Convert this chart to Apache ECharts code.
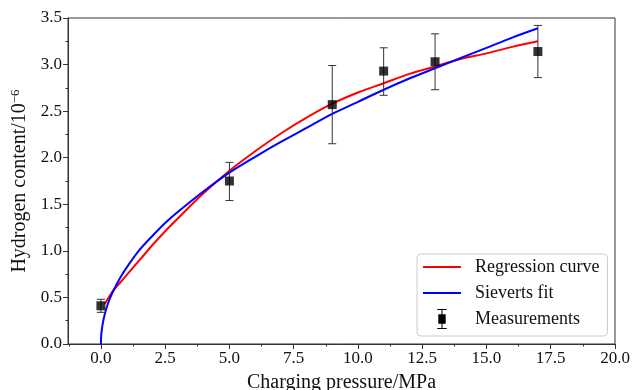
<!DOCTYPE html>
<html>
<head>
<meta charset="utf-8">
<script src="https://cdn.jsdelivr.net/npm/echarts@6/dist/echarts.min.js"></script>
<style>
  html, body { margin: 0; padding: 0; background: #fff; }
  #chart { width: 632px; height: 390px; }
</style>
</head>
<body>
<div id="chart"></div>
<script>
// measurements (pressure in MPa, hydrogen content in 10^-6)
const measX = [0, 5, 9, 11, 13, 17];
const measY = [0.41, 1.75, 2.57, 2.93, 3.03, 3.14];
const errLow = [0.34, 1.54, 2.15, 2.67, 2.73, 2.86];
const errHigh = [0.48, 1.95, 2.99, 3.18, 3.33, 3.42];

// regression curve
const regX = [0.15, 0.3, 0.5, 0.75, 1, 1.5, 2, 2.5, 3, 4, 5, 6, 7, 8, 9, 10, 11, 12, 13, 14, 15, 16, 17];
const regY = [0.43, 0.50, 0.58, 0.66, 0.74, 0.90, 1.06, 1.21, 1.35, 1.62, 1.86, 2.07, 2.26, 2.43, 2.58, 2.70, 2.80, 2.90, 2.98, 3.06, 3.12, 3.19, 3.25];

// Sieverts fit
const sievX = [0, 0.01, 0.03, 0.06, 0.1, 0.2, 0.35, 0.5, 0.75, 1, 1.5, 2, 2.5, 3, 4, 5, 6, 7, 8, 9, 10, 11, 12, 13, 14, 15, 16, 17];
const sievY = [0, 0.08, 0.14, 0.20, 0.26, 0.37, 0.49, 0.58, 0.71, 0.82, 1.01, 1.16, 1.30, 1.42, 1.64, 1.84, 2.01, 2.17, 2.32, 2.47, 2.60, 2.73, 2.85, 2.96, 3.07, 3.18, 3.29, 3.39];

const xMajor = [0, 2.5, 5, 7.5, 10, 12.5, 15, 17.5, 20];
const xMinor = [-1.25, 1.25, 3.75, 6.25, 8.75, 11.25, 13.75, 16.25, 18.75];

const font = 'Liberation Serif';
const axisColor = '#333';

const pair = (xs, ys) => xs.map((x, i) => [x, ys[i]]);

const chart = echarts.init(document.getElementById('chart'));
chart.setOption({
  animation: false,
  textStyle: { fontFamily: font },
  grid: {
    left: 68, right: 17, top: 18, bottom: 46,
    outerBoundsMode: 'none',
    show: true, borderColor: axisColor, borderWidth: 1
  },
  xAxis: [{
    type: 'value', min: -1.28, max: 20,
    name: 'Charging pressure/MPa', nameLocation: 'middle', nameGap: 29,
    nameTextStyle: { fontFamily: font, fontSize: 20, color: '#111' },
    axisLine: { show: true, onZero: false, lineStyle: { color: axisColor } },
    axisTick: { show: true, length: 5, customValues: xMajor, lineStyle: { color: axisColor } },
    axisLabel: {
      customValues: xMajor, fontFamily: font, fontSize: 17, color: '#111', margin: 6,
      formatter: v => v.toFixed(1)
    },
    splitLine: { show: false }
  }, {
    type: 'value', min: -1.28, max: 20, position: 'bottom',
    axisLine: { show: false, onZero: false },
    axisTick: { show: true, length: 2.5, customValues: xMinor, lineStyle: { color: axisColor } },
    axisLabel: { show: false },
    splitLine: { show: false }
  }],
  yAxis: {
    type: 'value', min: 0, max: 3.5, interval: 0.5,
    name: 'Hydrogen content/10{sup|−6}', nameLocation: 'middle', nameGap: 31, nameRotate: 90,
    nameTextStyle: {
      fontFamily: font, fontSize: 20, color: '#111',
      rich: { sup: { fontFamily: font, fontSize: 13, color: '#111', verticalAlign: 'top', padding: [0, 0, 8, 0] } }
    },
    axisLine: { show: true, onZero: false, lineStyle: { color: axisColor } },
    axisTick: { show: true, length: 5, lineStyle: { color: axisColor } },
    minorTick: { show: true, splitNumber: 2, length: 2.5, lineStyle: { color: axisColor } },
    axisLabel: { fontFamily: font, fontSize: 17, color: '#111', margin: 6, formatter: v => v.toFixed(1) },
    splitLine: { show: false }
  },
  legend: {
    orient: 'vertical', left: 417, top: 254,
    padding: [3, 8, 7, 6],
    itemWidth: 38, itemHeight: 20, itemGap: 6,
    backgroundColor: '#fff', borderColor: '#ccc', borderWidth: 1, borderRadius: 4,
    textStyle: { fontFamily: font, fontSize: 18, color: '#111', lineHeight: 20, padding: [0, 0, 0, 9] },
    data: [
      { name: 'Regression curve', icon: 'path://M0,0H38V2H0Z' },
      { name: 'Sieverts fit', icon: 'path://M0,0H38V2H0Z' },
      { name: 'Measurements', icon: 'path://M0,0H9V1H0Z M4,0H5V19H4Z M0,18H9V19H0Z M1,5H8V14H1Z' }
    ]
  },
  series: [
    {
      name: 'Regression curve', type: 'line', data: pair(regX, regY),
      showSymbol: false, symbol: 'none', z: 3, smooth: 0.3,
      lineStyle: { color: '#ff0000', width: 2 }, itemStyle: { color: '#ff0000' }
    },
    {
      name: 'Sieverts fit', type: 'line', data: pair(sievX, sievY),
      showSymbol: false, symbol: 'none', z: 3, smooth: 0.3,
      lineStyle: { color: '#0000ff', width: 2 }, itemStyle: { color: '#0000ff' }
    },
    {
      name: 'Measurements', type: 'custom', z: 4,
      itemStyle: { color: '#000' },
      data: measX.map((x, i) => [x, errLow[i], errHigh[i]]),
      renderItem: (params, api) => {
        const lo = api.coord([api.value(0), api.value(1)]);
        const hi = api.coord([api.value(0), api.value(2)]);
        const w = 4;
        const style = { stroke: '#333', lineWidth: 1 };
        return {
          type: 'group',
          children: [
            { type: 'line', shape: { x1: lo[0], y1: lo[1], x2: hi[0], y2: hi[1] }, style },
            { type: 'line', shape: { x1: lo[0] - w, y1: lo[1], x2: lo[0] + w, y2: lo[1] }, style },
            { type: 'line', shape: { x1: hi[0] - w, y1: hi[1], x2: hi[0] + w, y2: hi[1] }, style }
          ]
        };
      }
    },
    {
      name: 'Measurements', type: 'scatter', data: pair(measX, measY),
      symbol: 'rect', symbolSize: 9, z: 5,
      itemStyle: { color: '#000' }
    }
  ]
});
</script>
</body>
</html>
